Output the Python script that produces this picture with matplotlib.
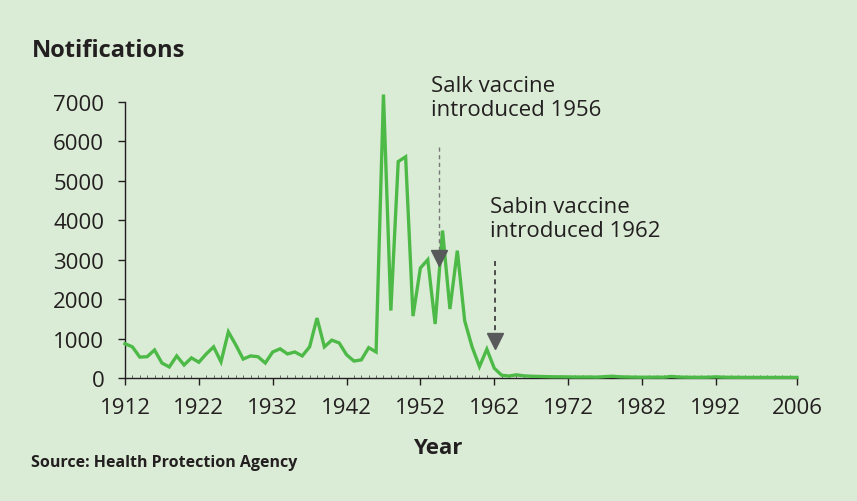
import numpy as np
import matplotlib.pyplot as plt

# polio notifications, one value per plotted year position (1912 ->)
notifications = [
    870, 790, 530, 540, 710, 380, 280, 560, 330, 510,      # 1912-1921
    400, 610, 790, 410, 1170, 840, 480, 560, 540, 380,     # 1922-1931
    660, 740, 610, 660, 560, 790, 1520, 790, 960, 890,     # 1932-1941
    590, 430, 460, 770, 660, 7190, 1710, 5490, 5610, 1570,  # 1942-1951
    2790, 3000, 1370, 3740, 1750, 3230, 1450, 790, 290, 730,  # 1952-1961
    250, 70, 50, 80, 55, 45, 40, 35, 30, 30,
    28, 25, 25, 25, 22, 35, 45, 30, 25, 22,
    20, 20, 22, 20, 40, 25, 20, 18, 18, 20,
    30, 20, 18, 18, 15, 15, 15, 15, 15, 15,
    15, 15,
]
tick_pos = [0, 10, 20, 30, 40, 50, 60, 70, 80, 91]
tick_labels = ['1912', '1922', '1932', '1942', '1952', '1962', '1972', '1982', '1992', '2006']
y_ticks = [0, 1000, 2000, 3000, 4000, 5000, 6000, 7000]

bg = '#dbecd6'
txt = '#231f20'
green = '#4dba48'

plt.rcParams['font.family'] = ['Open Sans', 'DejaVu Sans']

fig = plt.figure(figsize=(8.57, 5.02), dpi=100, facecolor=bg)
ax = fig.add_axes([125 / 857, 1 - 379 / 502, 672 / 857, 276 / 502])
ax.set_facecolor(bg)

x = np.arange(len(notifications))
ax.plot(x, notifications, color=green, lw=2.4, clip_on=False, zorder=3,
        solid_joinstyle='miter')

ax.set_xlim(0, 91)
ax.set_ylim(0, 7000)
ax.set_xticks(tick_pos)
ax.set_xticklabels(tick_labels)
ax.set_xticks(np.arange(0, 92), minor=True)
ax.set_yticks(y_ticks)
ax.tick_params(axis='both', which='major', length=5, width=1, color=txt,
               labelsize=16, labelcolor=txt, direction='out')
ax.tick_params(axis='x', which='minor', length=2, width=0.6, color='#555555',
               direction='in')
ax.tick_params(axis='x', pad=9)
ax.tick_params(axis='y', pad=10)
for side in ['top', 'right']:
    ax.spines[side].set_visible(False)
for side in ['left', 'bottom']:
    ax.spines[side].set_color(txt)
    ax.spines[side].set_linewidth(1)

# vaccine arrows
ax.plot([42.5, 42.5], [5860, 3000], ls=(0, (3, 2.5)), color='#777777', lw=1, zorder=4)
ax.plot([42.5], [3050], marker='v', ms=11, color='#58595b', zorder=5, clip_on=False)
ax.plot([50.1, 50.1], [2970, 900], ls=(0, (3, 2.5)), color='#333333', lw=1.2, zorder=4)
ax.plot([50.1], [930], marker='v', ms=11, color='#58595b', zorder=5, clip_on=False)

ax.text(41.4, 7680, 'Salk vaccine\nintroduced 1956', fontsize=16, color=txt,
        va='top', ha='left', linespacing=1.2, clip_on=False)
ax.text(49.4, 4610, 'Sabin vaccine\nintroduced 1962', fontsize=16, color=txt,
        va='top', ha='left', linespacing=1.2)

fig.text(32 / 857, 1 - 51 / 502, 'Notifications', fontsize=17, fontweight='bold',
         color=txt, va='center', ha='left')
fig.text(438 / 857, 1 - 449 / 502, 'Year', fontsize=16, fontweight='bold',
         color=txt, va='center', ha='center')
fig.text(31 / 857, 1 - 463 / 502, 'Source: Health Protection Agency', fontsize=11.5,
         fontweight='bold', color=txt, va='center', ha='left')

fig.savefig('out.png', dpi=100, facecolor=bg)
